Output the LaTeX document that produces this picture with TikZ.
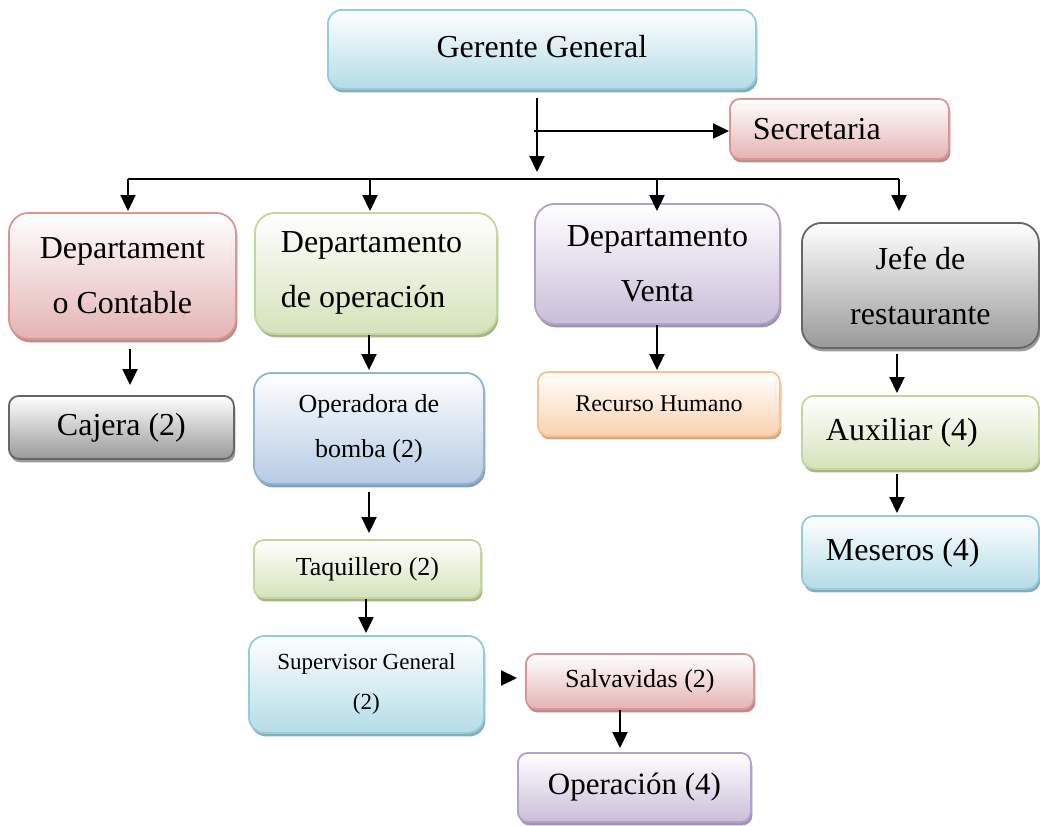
\documentclass[tikz,border=0pt]{standalone}
\usepackage{fontspec}
\setmainfont{Liberation Serif}
\usetikzlibrary{shadows,arrows.meta,calc}
\definecolor{bdB}{HTML}{93CDDD}\definecolor{fB}{HTML}{B4DCE7}\definecolor{sB}{HTML}{8AACB6}
\definecolor{bdR}{HTML}{D99694}\definecolor{fR}{HTML}{E4B4B3}\definecolor{sR}{HTML}{BA8C8C}
\definecolor{bdG}{HTML}{C3D69B}\definecolor{fG}{HTML}{D5E2BA}\definecolor{sG}{HTML}{A6B48B}
\definecolor{bdP}{HTML}{B3A2C7}\definecolor{fP}{HTML}{CABED9}\definecolor{sP}{HTML}{A093AF}
\definecolor{bdS}{HTML}{95B3D7}\definecolor{fS}{HTML}{B6CBE4}\definecolor{sS}{HTML}{899EB7}
\definecolor{bdO}{HTML}{FAC090}\definecolor{fO}{HTML}{FBD2B0}\definecolor{sO}{HTML}{D2AA8A}
\definecolor{bdK}{HTML}{666666}\definecolor{fK}{HTML}{999999}\definecolor{sK}{HTML}{9C9C9C}
\tikzset{
  box/.style={rounded corners=#1, line width=1.8pt, align=center, inner sep=2pt, anchor=north west, text=black},
  box/.default=12pt,
  lbox/.style={align=flush left},
  shd/.style={drop shadow={shadow xshift=1.5pt,shadow yshift=-3.5pt,fill=#1,opacity=1}},
  cblue/.style={draw=bdB, top color=white, bottom color=fB, shd=sB},
  cred/.style={draw=bdR, top color=white, bottom color=fR, shd=sR},
  cgreen/.style={draw=bdG, top color=white, bottom color=fG, shd=sG},
  cpurple/.style={draw=bdP, top color=white, bottom color=fP, shd=sP},
  csteel/.style={draw=bdS, top color=white, bottom color=fS, shd=sS},
  corange/.style={draw=bdO, top color=white, bottom color=fO, shd=sO},
  cgray/.style={draw=bdK, top color=white, bottom color=fK, shd=sK},
  fbig/.style={font=\fontsize{32}{55}\selectfont},
  fmid/.style={font=\fontsize{26}{45}\selectfont},
  arr/.style={line width=2.3pt, -{Triangle[length=16pt,width=15pt]}},
  busline/.style={line width=1.1pt},
}
\begin{document}
\begin{tikzpicture}[x=1pt,y=-1pt]
\useasboundingbox (0,0) rectangle (1040,825);
% nodes
\node[box=14pt, cblue, fbig, minimum width=428pt, minimum height=79pt] (ger) at (327,9) {\raisebox{6pt}{Gerente General}};
\node[box=10pt, cred, fbig, lbox, inner xsep=23pt, text width=173pt, minimum height=60pt] (sec) at (729,98) {Secretaria};
\node[box=20pt, cred, fbig, minimum width=227pt, minimum height=126pt] (dc) at (8,212) {Departament\\o Contable};
\node[box=20pt, cgreen, fbig, lbox, inner xsep=26pt, text width=190pt, minimum height=121pt] (dop) at (254,212) {Departamento\\de operación};
\node[box=20pt, cpurple, fbig, minimum width=245pt, minimum height=120pt] (dv) at (534,203) {Departamento\\Venta};
\node[box=20pt, cgray, fbig, minimum width=237pt, minimum height=125pt] (jefe) at (801,222) {Jefe de\\restaurante};
\node[box=10pt, cgray, fbig, minimum width=225pt, minimum height=63pt] (caj) at (8,395) {Cajera (2)};
\node[box=18pt, csteel, fmid, minimum width=230pt, minimum height=111pt] (opb) at (253,372) {Operadora de\\bomba (2)};
\node[box=10pt, cgreen, fmid, minimum width=227pt, minimum height=58pt] (taq) at (253,539) {Taquillero (2)};
\node[box=16pt, cblue, font=\fontsize{23}{40}\selectfont, minimum width=235pt, minimum height=97pt] (sup) at (248,635) {Supervisor General\\(2)};
\node[box=10pt, cred, fmid, minimum width=228pt, minimum height=55pt] (sal) at (525,653) {Salvavidas (2)};
\node[box=10pt, cpurple, font=\fontsize{31}{45}\selectfont, minimum width=233pt, minimum height=69pt] (ope) at (517,752) {Operación (4)};
\node[box=10pt, corange, font=\fontsize{24}{40}\selectfont, minimum width=242pt, minimum height=64pt] (rh) at (537,371) {Recurso Humano};
\node[box=12pt, cgreen, fbig, lbox, inner xsep=24pt, text width=189pt, minimum height=73pt] (aux) at (801,395) {Auxiliar (4)};
\node[box=12pt, cblue, fbig, lbox, inner xsep=24pt, text width=189pt, minimum height=73pt] (mes) at (801,515) {Meseros (4)};
% junction coordinates
\coordinate (gtop) at (537,98);
\coordinate (gmid) at (534,131);
\coordinate (gbus) at (537,179);
\coordinate (b1) at (128,179);
\coordinate (b2) at (370,179);
\coordinate (b3) at (657,179);
\coordinate (b4) at (899,179);
\coordinate (tipline) at (0,211);
\coordinate (xc) at (130,0);
\coordinate (xo) at (369,0);
\coordinate (xt) at (366,0);
\coordinate (xs) at (620,0);
\coordinate (xv) at (657,0);
\coordinate (xj) at (897,0);
\coordinate (ys) at (0,678);
% connectors
\draw[arr, shorten >=7pt] (gtop) -- (gbus);
\draw[arr] (gmid) -- (gmid -| sec.west);
\draw[busline] (b1) -- (b4);
\draw[arr] (b1) -- (b1 |- tipline);
\draw[arr] (b2) -- (b2 |- tipline);
\draw[arr] (b3) -- (b3 |- tipline);
\draw[arr] (b4) -- (b4 |- tipline);
\draw[arr, shorten <=9pt, shorten >=10pt] (dc.south -| xc) -- (caj.north -| xc);
\draw[arr, shorten >=2pt] (dop.south -| xo) -- (opb.north -| xo);
\draw[arr, shorten <=7pt, shorten >=6pt] (opb.south -| xo) -- (taq.north -| xo);
\draw[arr, shorten >=2pt] (taq.south -| xt) -- (sup.north -| xt);
\draw[arr, shorten <=19pt, shorten >=8pt] (sup.east |- ys) -- (sal.west |- ys);
\draw[arr, shorten >=4pt] (sal.south -| xs) -- (ope.north -| xs);
\draw[arr, shorten >=1pt] (dv.south -| xv) -- (rh.north -| xv);
\draw[arr, shorten <=5pt, shorten >=2pt] (jefe.south -| xj) -- (aux.north -| xj);
\draw[arr, shorten <=4pt, shorten >=2pt] (aux.south -| xj) -- (mes.north -| xj);
\end{tikzpicture}
\end{document}
